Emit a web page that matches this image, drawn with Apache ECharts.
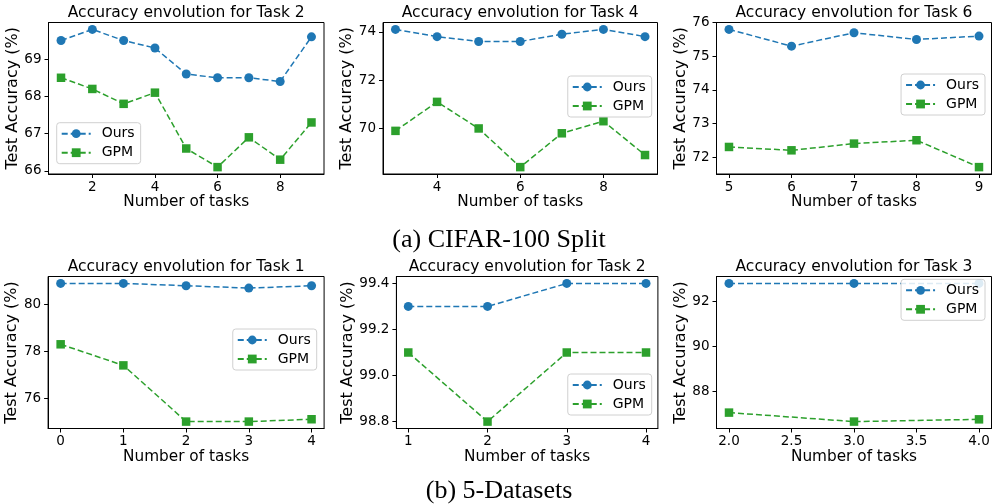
<!DOCTYPE html>
<html>
<head>
<meta charset="utf-8">
<script src="https://cdn.jsdelivr.net/npm/echarts@6/dist/echarts.min.js"></script>
<style>
html,body{margin:0;padding:0;background:#fff;}
#chart{width:993px;height:504px;}
</style>
</head>
<body>
<div id="chart"></div>
<script>
// ---------- DATA ----------
const seriesNames = ['Ours', 'GPM'];

// (a) CIFAR-100 Split
const cifarT2X = [1, 2, 3, 4, 5, 6, 7, 8, 9];
const cifarT2Ours = [69.5, 69.8, 69.5, 69.3, 68.6, 68.5, 68.5, 68.4, 69.6];
const cifarT2GPM = [68.5, 68.2, 67.8, 68.1, 66.6, 66.1, 66.9, 66.3, 67.3];
const cifarT2XTicks = [2, 4, 6, 8];
const cifarT2YTicks = [66, 67, 68, 69];

const cifarT4X = [3, 4, 5, 6, 7, 8, 9];
const cifarT4Ours = [74.1, 73.8, 73.6, 73.6, 73.9, 74.1, 73.8];
const cifarT4GPM = [69.9, 71.1, 70.0, 68.4, 69.8, 70.3, 68.9];
const cifarT4XTicks = [4, 6, 8];
const cifarT4YTicks = [70, 72, 74];

const cifarT6X = [5, 6, 7, 8, 9];
const cifarT6Ours = [75.8, 75.3, 75.7, 75.5, 75.6];
const cifarT6GPM = [72.3, 72.2, 72.4, 72.5, 71.7];
const cifarT6XTicks = [5, 6, 7, 8, 9];
const cifarT6YTicks = [72, 73, 74, 75, 76];

// (b) 5-Datasets
const fiveT1X = [0, 1, 2, 3, 4];
const fiveT1Ours = [80.9, 80.9, 80.8, 80.7, 80.8];
const fiveT1GPM = [78.3, 77.4, 75.0, 75.0, 75.1];
const fiveT1XTicks = [0, 1, 2, 3, 4];
const fiveT1YTicks = [76, 78, 80];

const fiveT2X = [1, 2, 3, 4];
const fiveT2Ours = [99.3, 99.3, 99.4, 99.4];
const fiveT2GPM = [99.1, 98.8, 99.1, 99.1];
const fiveT2XTicks = [1, 2, 3, 4];
const fiveT2YTicks = [98.8, 99.0, 99.2, 99.4];

const fiveT3X = [2, 3, 4];
const fiveT3Ours = [92.8, 92.8, 92.8];
const fiveT3GPM = [87.05, 86.65, 86.75];
const fiveT3XTicks = [2.0, 2.5, 3.0, 3.5, 4.0];
const fiveT3YTicks = [88, 90, 92];

const panelTitles = [
  'Accuracy envolution for Task 2', 'Accuracy envolution for Task 4', 'Accuracy envolution for Task 6',
  'Accuracy envolution for Task 1', 'Accuracy envolution for Task 2', 'Accuracy envolution for Task 3'
];
const captions = ['(a) CIFAR-100 Split', '(b) 5-Datasets'];
const xName = 'Number of tasks';
const yName = 'Test Accuracy (%)';

// ---------- LAYOUT / STYLE ----------
const FONT = 'DejaVu Sans';
const BLUE = '#1f77b4';
const GREEN = '#2ca02c';

const panels = [
  {x: cifarT2X, ours: cifarT2Ours, gpm: cifarT2GPM, xt: cifarT2XTicks, yt: cifarT2YTicks, xd: 0, yd: 0,
   grid: {left: 48.5, top: 22.5, width: 275.5, height: 151.5}, yGap: 26, legend: {left: 56.7, top: 122.7}},
  {x: cifarT4X, ours: cifarT4Ours, gpm: cifarT4GPM, xt: cifarT4XTicks, yt: cifarT4YTicks, xd: 0, yd: 0,
   grid: {left: 383, top: 22.5, width: 274.5, height: 151.5}, yGap: 25, legend: {right: 341.3, top: 76}},
  {x: cifarT6X, ours: cifarT6Ours, gpm: cifarT6GPM, xt: cifarT6XTicks, yt: cifarT6YTicks, xd: 0, yd: 0,
   grid: {left: 716.5, top: 22.5, width: 275, height: 151.5}, yGap: 25, legend: {right: 8, top: 74}},
  {x: fiveT1X, ours: fiveT1Ours, gpm: fiveT1GPM, xt: fiveT1XTicks, yt: fiveT1YTicks, xd: 0, yd: 0,
   grid: {left: 48.1, top: 276.5, width: 276, height: 152}, yGap: 25, legend: {right: 676.3, top: 329}},
  {x: fiveT2X, ours: fiveT2Ours, gpm: fiveT2GPM, xt: fiveT2XTicks, yt: fiveT2YTicks, xd: 0, yd: 1,
   grid: {left: 396.4, top: 276.5, width: 261.5, height: 152}, yGap: 38, legend: {right: 341.3, top: 374}},
  {x: fiveT3X, ours: fiveT3Ours, gpm: fiveT3GPM, xt: fiveT3XTicks, yt: fiveT3YTicks, xd: 1, yd: 0,
   grid: {left: 716.5, top: 276.5, width: 275, height: 152}, yGap: 25, legend: {right: 8, top: 279.3}}
];

function padRange(vals) {
  const lo = Math.min.apply(null, vals), hi = Math.max.apply(null, vals);
  const m = (hi - lo) * 0.05;
  return [lo - m, hi + m];
}

const option = {
  backgroundColor: '#fff',
  animation: false,
  grid: [], xAxis: [], yAxis: [], series: [], title: [], legend: []
};

panels.forEach((p, i) => {
  option.grid.push(Object.assign({show: true, borderColor: '#000', borderWidth: 1, containLabel: false}, p.grid));
  const xr = padRange(p.x);
  const yr = padRange(p.ours.concat(p.gpm));
  const tickStyle = {show: true, inside: false, length: 4, lineStyle: {color: '#000', width: 1}};
  const labelStyle = {color: '#000', fontSize: 13.5, fontFamily: FONT};
  option.xAxis.push({
    type: 'value', gridIndex: i, min: xr[0], max: xr[1],
    name: xName, nameLocation: 'middle', nameGap: 20,
    nameTextStyle: {color: '#000', fontSize: 15.3, fontFamily: FONT},
    axisLine: {show: true, onZero: false, lineStyle: {color: '#000', width: 1}},
    axisTick: Object.assign({customValues: p.xt}, tickStyle),
    axisLabel: Object.assign({customValues: p.xt, margin: 6, formatter: v => Number(v).toFixed(p.xd)}, labelStyle),
    splitLine: {show: false}
  });
  option.yAxis.push({
    type: 'value', gridIndex: i, min: yr[0], max: yr[1],
    name: yName, nameLocation: 'middle', nameGap: p.yGap,
    nameTextStyle: {color: '#000', fontSize: 16, fontFamily: FONT},
    axisLine: {show: true, onZero: false, lineStyle: {color: '#000', width: 1}},
    axisTick: Object.assign({customValues: p.yt}, tickStyle),
    axisLabel: Object.assign({customValues: p.yt, margin: 7, formatter: v => Number(v).toFixed(p.yd)}, labelStyle),
    splitLine: {show: false}
  });
  option.series.push({
    name: seriesNames[0], type: 'line', xAxisIndex: i, yAxisIndex: i,
    data: p.x.map((v, k) => [v, p.ours[k]]),
    symbol: 'circle', symbolSize: 9, showAllSymbol: true,
    lineStyle: {color: BLUE, width: 1.5, type: [6, 3]},
    itemStyle: {color: BLUE}, clip: false, z: 2
  });
  option.series.push({
    name: seriesNames[1], type: 'line', xAxisIndex: i, yAxisIndex: i,
    data: p.x.map((v, k) => [v, p.gpm[k]]),
    symbol: 'rect', symbolSize: 8.5, showAllSymbol: true,
    lineStyle: {color: GREEN, width: 1.5, type: [6, 3]},
    itemStyle: {color: GREEN}, clip: false, z: 3
  });
  option.title.push({
    text: panelTitles[i],
    left: p.grid.left + p.grid.width / 2, textAlign: 'center',
    top: p.grid.top - 18,
    padding: 0,
    textStyle: {color: '#000', fontSize: 15.5, fontWeight: 'normal', fontFamily: FONT}
  });
  option.legend.push(Object.assign({
    orient: 'vertical', data: seriesNames,
    itemWidth: 29, itemHeight: 11, itemGap: 5,
    padding: [4, 6, 4, 4],
    backgroundColor: 'rgba(255,255,255,0.85)',
    borderColor: '#d0d0d0', borderWidth: 1, borderRadius: 3,
    textStyle: {color: '#000', fontSize: 14, fontFamily: FONT, padding: [0, 0, 0, 6]},
    selectedMode: false, z: 10
  }, p.legend));
});

option.title.push({
  text: captions[0], left: 499, textAlign: 'center', top: 227, padding: 0,
  textStyle: {color: '#000', fontSize: 26, fontWeight: 'normal', fontFamily: 'Liberation Serif'}
});
option.title.push({
  text: captions[1], left: 499, textAlign: 'center', top: 478, padding: 0,
  textStyle: {color: '#000', fontSize: 26, fontWeight: 'normal', fontFamily: 'Liberation Serif'}
});

const chart = echarts.init(document.getElementById('chart'), null, {renderer: 'canvas'});
chart.setOption(option);
</script>
</body>
</html>
